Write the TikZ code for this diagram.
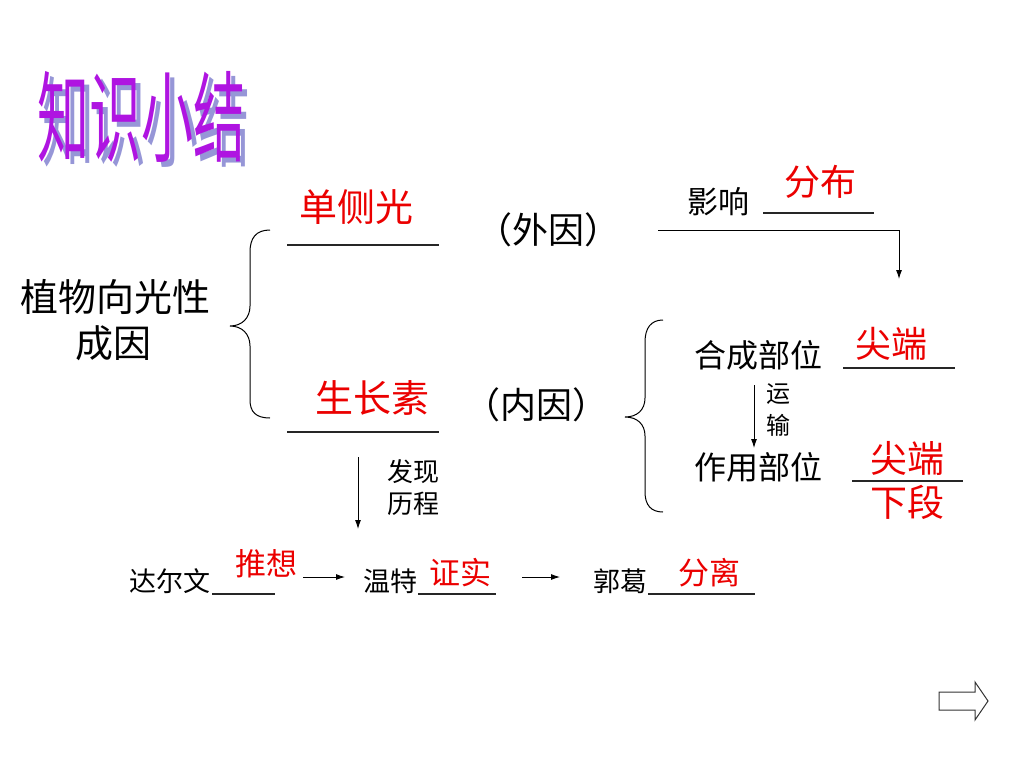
\documentclass[tikz,border=0pt]{standalone}
\usepackage{fontspec}
\setmainfont{Liberation Sans}
\newfontfamily\cjk{Noto Sans CJK SC}
\usetikzlibrary{arrows.meta}
\definecolor{ansred}{RGB}{235,0,0}
\definecolor{titlepurple}{RGB}{175,20,225}
\definecolor{titleshadow}{RGB}{150,150,215}
\tikzset{
  txt/.style={inner sep=0pt, font=\cjk\fontsize{#1}{#1}\selectfont},
  ans/.style={txt=#1, text=ansred},
  blankline/.style={line width=1.1pt, draw=black!85},
  arr/.style={-{Latex[length=9pt,width=6pt]}, line width=0.9pt},
  bracepath/.style={line width=1pt},
  titletxt/.style={inner sep=0pt, font=\cjk\fontsize{52}{52}\selectfont, yscale=1.9},
  hollow/.style={line width=1pt, draw=black!80, fill=white}
}
\begin{document}
\begin{tikzpicture}[x=1pt,y=-1pt]
\useasboundingbox (0,0) rectangle (1024,768);
\fill[white] (0,0) rectangle (1024,768);

% title (shadow drawn behind)
\node[titletxt, text=titleshadow] (titleshadow) at (146,122) {知识小结};
\node[titletxt, text=titlepurple] (title) at (141,117) {知识小结};

% left cause
\node[txt=38] (cause1) at (115,297) {植物向光性};
\node[txt=38] (cause2) at (113,343) {成因};

% outer brace
\draw[bracepath] (270,230) .. controls (256,230) and (250,238) .. (250,252) -- (250,306)
  .. controls (250,318) and (242,326) .. (230,326)
  .. controls (242,326) and (250,334) .. (250,346) -- (250,400)
  .. controls (250,412) and (256,418) .. (270,418);

% external cause
\node[ans=38] (light) at (356,207) {单侧光};
\coordinate (b1s) at (287,245); \coordinate (b1e) at (439,245);
\draw[blankline] (b1s) -- (b1e);
\node[txt=36] (ext) at (548,230) {（外因）};

% influence
\node[txt=31] (infl) at (718,202) {影响};
\coordinate (b2s) at (763,213); \coordinate (b2e) at (874,213);
\draw[blankline] (b2s) -- (b2e);
\node[ans=36] (distr) at (820,182) {分布};
\coordinate (infA) at (658,230);
\coordinate (infB) at (899,230);
\coordinate (infC) at (899,279);
\draw[arr] (infA) -- (infB) -- (infC);

% internal cause
\node[ans=38] (auxin) at (372,398) {生长素};
\coordinate (b3s) at (287,432); \coordinate (b3e) at (439,432);
\draw[blankline] (b3s) -- (b3e);
\node[txt=36] (int) at (536,405) {（内因）};

% inner brace
\draw[bracepath] (663,320) .. controls (651,320) and (645,328) .. (645,342) -- (645,398)
  .. controls (645,410) and (637,417) .. (625,417)
  .. controls (637,417) and (645,424) .. (645,436) -- (645,492)
  .. controls (645,505) and (651,512) .. (663,512);

\node[txt=32] (synth) at (758,355) {合成部位};
\coordinate (b4s) at (843,368); \coordinate (b4e) at (955,368);
\draw[blankline] (b4s) -- (b4e);
\node[ans=36] (tip1) at (891,344) {尖端};

\coordinate (trA) at (754,385); \coordinate (trB) at (754,448);
\draw[arr] (trA) -- (trB);
\node[txt=24] (tr1) at (778,394) {运};
\node[txt=24] (tr2) at (778,425) {输};

\node[txt=32] (act) at (758,467) {作用部位};
\coordinate (b5s) at (852,481); \coordinate (b5e) at (963,481);
\draw[blankline] (b5s) -- (b5e);
\node[ans=37] (tip2) at (907,458) {尖端};
\node[ans=37] (tip3) at (907,502) {下段};

% discovery
\coordinate (dA) at (358,457); \coordinate (dB) at (358,529);
\draw[arr] (dA) -- (dB);
\node[txt=26] (disc1) at (413,472) {发现};
\node[txt=26] (disc2) at (413,504) {历程};

% bottom row
\node[txt=27] (darwin) at (170,581) {达尔文};
\coordinate (b6s) at (212,594); \coordinate (b6e) at (275,594);
\draw[blankline] (b6s) -- (b6e);
\node[ans=31] (guess) at (266,564) {推想};
\coordinate (a1s) at (303,577); \coordinate (a1e) at (345,577);
\draw[arr] (a1s) -- (a1e);

\node[txt=27] (went) at (390,581) {温特};
\coordinate (b7s) at (418,594); \coordinate (b7e) at (496,594);
\draw[blankline] (b7s) -- (b7e);
\node[ans=31] (prove) at (460,573) {证实};
\coordinate (a2s) at (522,577); \coordinate (a2e) at (560,577);
\draw[arr] (a2s) -- (a2e);

\node[txt=27] (kogl) at (620,581) {郭葛};
\coordinate (b8s) at (648,594); \coordinate (b8e) at (755,594);
\draw[blankline] (b8s) -- (b8e);
\node[ans=31] (isol) at (709,573) {分离};

% hollow next arrow
\draw[hollow] (939,692) -- (975,692) -- (975,682) -- (988,701) -- (975,720) -- (975,710) -- (939,710) -- cycle;
\end{tikzpicture}
\end{document}
